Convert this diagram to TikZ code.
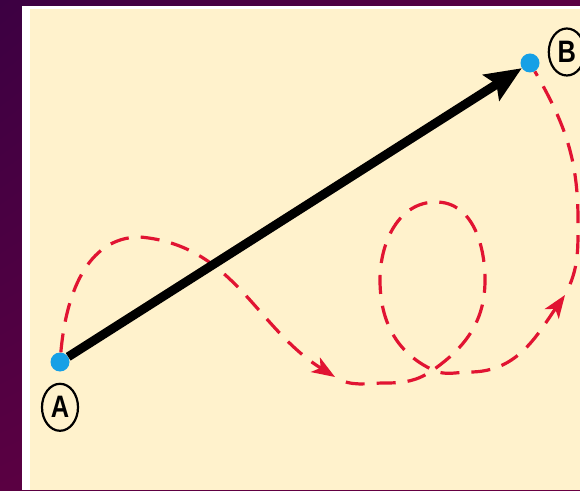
\documentclass[tikz,border=0pt]{standalone}
\usepackage{graphicx}
\usepackage{fontspec}
\setmainfont{Liberation Sans}
\usetikzlibrary{arrows.meta, positioning, shapes.geometric, shadings}
\definecolor{bgdark}{RGB}{60,0,66}
\definecolor{bgmid}{RGB}{90,0,66}
\definecolor{bglight}{RGB}{105,0,66}
\definecolor{panel}{RGB}{255,242,204}
\definecolor{spotblue}{RGB}{22,160,230}
\definecolor{routered}{RGB}{225,20,50}
\newcommand{\narrowtag}[1]{\scalebox{0.82}[1]{#1}}

\begin{document}
\begin{tikzpicture}[x=1pt, y=1pt,
  spot/.style={circle, fill=spotblue, inner sep=0pt, minimum size=19pt},
  tag/.style={draw, ellipse, line width=2.2pt, inner sep=0pt, minimum width=36pt, minimum height=47pt, font=\fontsize{31}{31}\selectfont\bfseries},
  route/.style={draw=routered, line width=3.2pt, dash pattern=on 19pt off 12pt},
  routetip/.style={-{Stealth[length=23pt, width=17pt, inset=6pt]}}]
  % backdrop and panel
  \shade[upper left=bgdark, upper right=bgmid, lower left=bgmid, lower right=bglight] (0,0) rectangle (580,490);
  \fill[white] (22,0) rectangle (580,484);
  \fill[panel] (30,0) rectangle (580,481);
  \useasboundingbox (0,0) rectangle (580,490);

  \node[spot] (A) at (60,128) {};
  \node[spot] (B) at (530,427) {};
  \node[tag, below=11pt of A] (labA) {\narrowtag{A}};
  \node[tag, right=8pt of B, yshift=11pt] (labB) {\narrowtag{B}};

  % points on the dashed route
  \coordinate (hump) at (140,253);
  \coordinate (tip1) at (335,113);
  \coordinate (low) at (385,107);
  \coordinate (cross) at (433,120);
  \coordinate (loopR) at (485,210);
  \coordinate (loopT) at (436,288);
  \coordinate (loopL) at (380,210);
  \coordinate (low2) at (470,118);
  \coordinate (tip2) at (565,195);
  \coordinate (farR) at (578,270);

  \draw[route, routetip] (A) to[out=85, in=180] (hump) to[out=-5, in=148] (tip1);
  \draw[route, routetip, dash phase=19pt] (tip1) to[out=-32, in=180] (low)
    to[out=0, in=215] (cross) to[out=35, in=-90] (loopR) to[out=90, in=0] (loopT)
    to[out=180, in=90] (loopL) to[out=-90, in=155] (cross) to[out=-25, in=180] (low2)
    to[out=0, in=235] (tip2);
  \draw[route, dash phase=19pt] (tip2) to[out=62, in=-90] (farR) to[out=90, in=-60] (B);

  \draw[line width=9pt, -{Stealth[length=36pt, width=30pt, inset=6pt]}] (A) -- (B);
\end{tikzpicture}
\end{document}
